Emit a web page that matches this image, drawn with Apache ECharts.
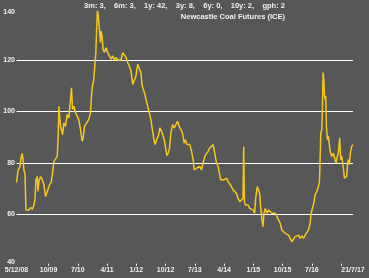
<!DOCTYPE html>
<html><head><meta charset="utf-8">
<script src="https://cdn.jsdelivr.net/npm/echarts@6/dist/echarts.min.js"></script>
<style>html,body{margin:0;padding:0;background:#575757}#c{width:369px;height:278px}</style>
</head><body><div id="c"></div>
<script>
// x = months since Jan 2008 (fractional)
const months = [11.13,11.59,12.20,12.61,12.92,13.23,13.43,13.74,14.04,14.45,14.96,15.48,15.99,16.50,16.81,17.11,17.52,17.73,18.03,18.54,19.05,19.57,20.08,20.38,20.79,21.30,21.82,22.22,22.63,23.14,23.66,23.96,24.17,24.37,24.68,24.98,25.29,25.70,26.21,26.72,27.23,27.75,28.05,28.36,28.77,29.28,29.79,30.30,30.81,31.32,31.63,32.04,32.65,33.37,33.88,34.19,34.49,34.90,35.21,35.52,35.82,36.03,36.23,
36.64,36.95,37.15,37.46,37.77,38.17,38.69,39.20,39.71,40.22,40.73,41.24,41.75,42.26,42.78,43.29,43.80,44.31,44.82,45.33,45.84,46.36,46.87,47.38,47.89,48.40,48.91,49.42,49.73,50.14,50.65,50.96,51.47,51.98,52.49,53.00,53.51,53.82,54.23,54.74,55.25,55.76,56.27,56.58,57.09,57.40,57.81,58.22,58.63,59.14,59.65,60.16,60.67,61.18,61.69,62.20,
62.72,63.13,63.54,63.94,64.46,64.97,65.48,65.79,66.19,66.60,67.01,67.52,68.03,68.55,69.06,69.57,70.08,70.59,71.10,71.61,72.13,72.64,73.15,73.66,73.97,74.37,74.99,75.70,76.21,76.73,77.24,77.75,78.26,78.77,79.28,79.79,80.30,80.82,81.02,81.23,81.53,81.94,82.35,82.86,83.37,83.88,84.40,84.70,85.21,85.62,85.93,86.24,86.64,86.95,87.26,87.67,
88.17,88.68,89.19,89.70,90.22,90.73,91.24,91.75,92.26,92.77,93.28,93.79,94.31,94.82,95.33,95.84,96.35,96.86,97.37,97.89,98.40,98.91,99.42,99.93,100.44,100.95,101.46,101.77,102.18,102.59,103.00,103.51,104.02,104.33,104.53,104.74,105.04,105.25,105.45,105.66,105.86,106.07,106.27,106.47,106.78,107.09,107.60,108.11,108.62,109.13,109.44,109.85,110.15,110.56,110.87,111.18,111.69,112.00,112.40,112.71,113.02,113.22,113.53,113.84,114.25,114.65];
const prices = [72.4,77,78.6,82.5,83.6,80,77,76,61.7,62.3,61.7,62.7,61.9,63.6,65.6,73.4,74.7,68.9,72.8,74.7,73.4,71.5,66.9,66.3,69.5,71.5,72.4,76,80.6,81.2,82.5,90.3,102,98.8,94.2,94.9,91,95.5,94.2,98.8,97.5,104.7,109.2,100.8,102,99.5,98.2,96.8,93,88.4,89.7,94.2,94.2,96.8,99.5,106,109.9,112.5,117.7,122.2,133.3,139.2,137.9,
132,126.8,131.3,129.3,124.2,122.9,124.8,122.9,121.6,120.3,121.6,120,121,120,120.7,120,122.9,123.5,121,119,117.7,115.7,110.5,111.2,113.8,118.3,117.7,115,110.5,108.6,106.6,104.7,102,99.5,96.8,92.3,88.4,87.1,89,90.3,93.6,92.3,90.3,89,85.1,82.8,83.8,85.8,91.6,94.9,93.6,94.9,96.2,94.2,93,91.6,
87.7,89,87.1,87.7,87.1,84.5,81.2,77.3,76.7,78,77.3,78.6,77.3,80,82.5,82.5,84.5,85.8,86.4,87.1,83.8,80,78.6,78,73.4,74.1,73.4,74.1,72.8,72.1,70.8,69.5,68.9,68.2,66.2,64.9,64.9,66.2,86.4,65,63.6,64.3,63.6,62.3,63,61.7,60.4,66.2,70.8,71.5,68.2,63,57.8,55.2,60.4,62.3,
60.4,61.7,61,60.4,60.6,60.4,59.7,57.8,56.5,53.9,53.2,52.6,53.2,51.9,50.6,49.3,50,51.3,50.6,51.9,50.6,51.6,50.6,51.9,51.3,53.9,56.5,60.4,61,64.3,67.6,68.9,70.8,72.8,81.2,91.6,92.9,100.8,115.1,112.5,106.6,104.7,106,94.2,89,90.3,84.5,82.5,83.8,81.2,80,82.5,83.8,89.7,81.2,82.5,78,74.1,73.4,74.7,80,81.2,79.3,83.8,86.4,87.1];

const tickMonths = [21,30,39,48,57,66,75,84,93,102,111];
const labelMonths = [11.13,21,30,39,48,57,66,75,84,93,102,114.65];
const tickLabels = ['5/12/08','10/09','7/10','4/11','1/12','10/12','7/13','4/14','1/15','10/15','7/16','21/7/17'];
const yTicks = [40,60,80,100,120,140];
const statsText = '3m: 3,    6m: 3,    1y: 42,    3y: 8,    6y: 0,    10y: 2,    gph: 2';
const titleText = 'Newcastle Coal Futures (ICE)';

const chart = echarts.init(document.getElementById('c'), null, {renderer:'canvas'});
const lab = {};
labelMonths.forEach((m,i)=>{lab[m.toFixed(2)] = tickLabels[i];});
chart.setOption({
  backgroundColor:'#575757',
  animation:false,
  textStyle:{fontFamily:'Liberation Sans'},
  title:[
    {text:statsText, left:'center', top:2, padding:0, textStyle:{color:'#f0f0f0', fontSize:7.5, fontWeight:'bold', fontFamily:'Liberation Sans'}},
    {text:titleText, right:84, top:13, padding:0, textStyle:{color:'#f0f0f0', fontSize:7.5, fontWeight:'bold', fontFamily:'Liberation Sans'}}
  ],
  grid:{left:16.5, right:16, top:8.6, bottom:12.3, containLabel:false},
  xAxis:{
    type:'value', min:11.13, max:114.65,
    axisLine:{show:false},
    splitLine:{show:false},
    axisTick:{show:true, customValues:tickMonths, length:2, inside:true, lineStyle:{color:'#ffffff', width:1}},
    axisLabel:{customValues:labelMonths, margin:1, color:'#f0f0f0', fontSize:7, fontWeight:'bold', fontFamily:'Liberation Sans',
      showMinLabel:true, showMaxLabel:true, hideOverlap:false,
      formatter:(v)=>lab[Number(v).toFixed(2)] || ''}
  },
  yAxis:{
    type:'value', min:40, max:140, interval:20,
    axisLine:{show:false}, axisTick:{show:false},
    splitLine:{show:true, lineStyle:{color:['rgba(0,0,0,0)','#ffffff','#ffffff','#ffffff','#ffffff','rgba(0,0,0,0)'], width:1.2}},
    axisLabel:{margin:1.5, color:'#f0f0f0', fontSize:7, fontWeight:'bold', fontFamily:'Liberation Sans',
      verticalAlignMaxLabel:'top', verticalAlignMinLabel:'bottom'}
  },
  series:[{
    type:'line', data:months.map((m,i)=>[m,prices[i]]),
    showSymbol:false, sampling:null,
    lineStyle:{color:'#f5c71a', width:1.5}
  }]
});
</script>
</body></html>
